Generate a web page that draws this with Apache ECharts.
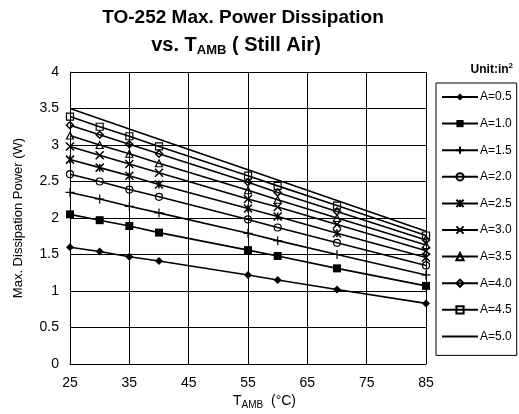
<!DOCTYPE html>
<html><head><meta charset="utf-8">
<script src="https://cdn.jsdelivr.net/npm/echarts@6/dist/echarts.min.js"></script>
<style>html,body{margin:0;padding:0;background:#fff}#c{width:519px;height:414px}</style>
</head><body><div id="c"></div>
<script>
const temps = [25, 30, 35, 40, 55, 60, 70, 85];
const a05 = [1.60, 1.54, 1.47, 1.41, 1.22, 1.15, 1.02, 0.83];
const a10 = [2.05, 1.97, 1.89, 1.80, 1.56, 1.48, 1.31, 1.07];
const a15 = [2.35, 2.26, 2.16, 2.07, 1.79, 1.69, 1.50, 1.22];
const a20 = [2.60, 2.50, 2.39, 2.29, 1.98, 1.87, 1.66, 1.35];
const a25 = [2.80, 2.69, 2.58, 2.46, 2.13, 2.02, 1.79, 1.46];
const a30 = [2.98, 2.86, 2.74, 2.62, 2.26, 2.15, 1.91, 1.55];
const a35 = [3.13, 3.00, 2.88, 2.75, 2.38, 2.25, 2.00, 1.63];
const a40 = [3.27, 3.14, 3.01, 2.88, 2.49, 2.35, 2.09, 1.70];
const a45 = [3.39, 3.25, 3.12, 2.98, 2.58, 2.44, 2.17, 1.76];
const a50 = [3.50, 3.36, 3.22, 3.08, 2.66, 2.52, 2.24, 1.82];
const names = ['A=0.5','A=1.0','A=1.5','A=2.0','A=2.5','A=3.0','A=3.5','A=4.0','A=4.5','A=5.0'];
const values = [a05, a10, a15, a20, a25, a30, a35, a40, a45, a50];

const FONT = '"Liberation Sans", Arial, sans-serif';
const T = 'rgba(0,0,0,0)';
const marks = [
  {symbol: 'diamond', size: 8, fill: '#000', bw: 0},
  {symbol: 'rect', size: 8, fill: '#000', bw: 0},
  {symbol: 'path://M0,5L10,5M5,0L5,10', size: 9, fill: T, bw: 1.2},
  {symbol: 'circle', size: 7, fill: T, bw: 1.2},
  {symbol: 'path://M0,0L10,10M10,0L0,10M5,0L5,10', size: 8, fill: T, bw: 1.5},
  {symbol: 'path://M0,0L10,10M10,0L0,10', size: 8, fill: T, bw: 1.5},
  {symbol: 'triangle', size: 7, fill: T, bw: 1.2},
  {symbol: 'diamond', size: 7, fill: T, bw: 1.5},
  {symbol: 'rect', size: 7, fill: T, bw: 1.2},
  {symbol: 'none', size: 0, fill: '#000', bw: 0}
];

const series = names.map((n, k) => ({
  name: n,
  type: 'line',
  data: temps.map((t, i) => [t, values[k][i]]),
  symbol: marks[k].symbol,
  symbolSize: marks[k].size,
  showSymbol: marks[k].symbol !== 'none',
  lineStyle: {color: '#000', width: 1.6},
  itemStyle: {color: marks[k].fill, borderColor: '#000', borderWidth: marks[k].bw},
  emphasis: {disabled: true},
  animation: false,
  z: 2
}));

const legendData = names.map((n, k) => marks[k].symbol === 'none'
  ? {name: n, itemStyle: {color: T, borderColor: T, borderWidth: 0}}
  : {name: n});

const chart = echarts.init(document.getElementById('c'), null, {renderer: 'canvas'});
chart.setOption({
  backgroundColor: '#fff',
  animation: false,
  title: [{
    text: 'TO-252 Max. Power Dissipation',
    left: 243, top: 6, textAlign: 'center', padding: 0,
    textStyle: {fontFamily: FONT, fontSize: 19, fontWeight: 'bold', color: '#000', lineHeight: 24}
  }, {
    text: '{a|vs. T}{s|AMB}{a| ( Still Air)}',
    left: 236, top: 33, textAlign: 'center', padding: 0,
    textStyle: {
      rich: {
        a: {fontFamily: FONT, fontSize: 20, fontWeight: 'bold', color: '#000', lineHeight: 24},
        s: {fontFamily: FONT, fontSize: 13, fontWeight: 'bold', color: '#000', lineHeight: 24, padding: [10, 0, 0, 0]}
      }
    }
  }],
  graphic: [{
    type: 'text', right: 6, top: 62,
    style: {
      text: '{u|Unit:in}{p|2}',
      rich: {
        u: {fontFamily: FONT, fontSize: 12, fontWeight: 'bold', fill: '#000', lineHeight: 16},
        p: {fontFamily: FONT, fontSize: 8, fontWeight: 'bold', fill: '#000', lineHeight: 16, padding: [0, 0, 7, 0]}
      }
    }
  }, {
    type: 'text', left: 233, top: 393,
    style: {
      text: '{a|T}{s|AMB}{a|  (°C)}',
      rich: {
        a: {fontFamily: FONT, fontSize: 14, fill: '#000', lineHeight: 18},
        s: {fontFamily: FONT, fontSize: 10, fill: '#000', lineHeight: 18, padding: [7, 0, 0, 0]}
      }
    }
  }],
  legend: {
    orient: 'vertical', left: 436, top: 83,
    data: legendData,
    itemWidth: 36, itemHeight: 9, itemGap: 12.6,
    padding: [7, 5, 12, 5],
    borderColor: '#000', borderWidth: 1,
    textStyle: {fontFamily: FONT, fontSize: 12, color: '#000', lineHeight: 14, padding: [0, 0, 0, -3]},
    selectedMode: false
  },
  grid: {left: 70, right: 93, top: 72, bottom: 50, containLabel: false},
  xAxis: {
    type: 'value', min: 25, max: 85, interval: 10,
    axisLine: {lineStyle: {color: '#000', width: 1}},
    axisTick: {show: false},
    splitLine: {lineStyle: {color: '#000', width: 1}},
    axisLabel: {fontFamily: FONT, fontSize: 14, color: '#000', margin: 12}
  },
  yAxis: {
    type: 'value', min: 0, max: 4, interval: 0.5,
    axisLine: {show: true, lineStyle: {color: '#000', width: 1}},
    axisTick: {show: false},
    splitLine: {lineStyle: {color: '#000', width: 1}},
    axisLabel: {fontFamily: FONT, fontSize: 14, color: '#000', margin: 11},
    name: 'Max. Dissipation Power (W)',
    nameLocation: 'middle', nameGap: 45,
    nameTextStyle: {fontFamily: FONT, fontSize: 13, color: '#000'}
  },
  series: series
});
</script></body></html>
